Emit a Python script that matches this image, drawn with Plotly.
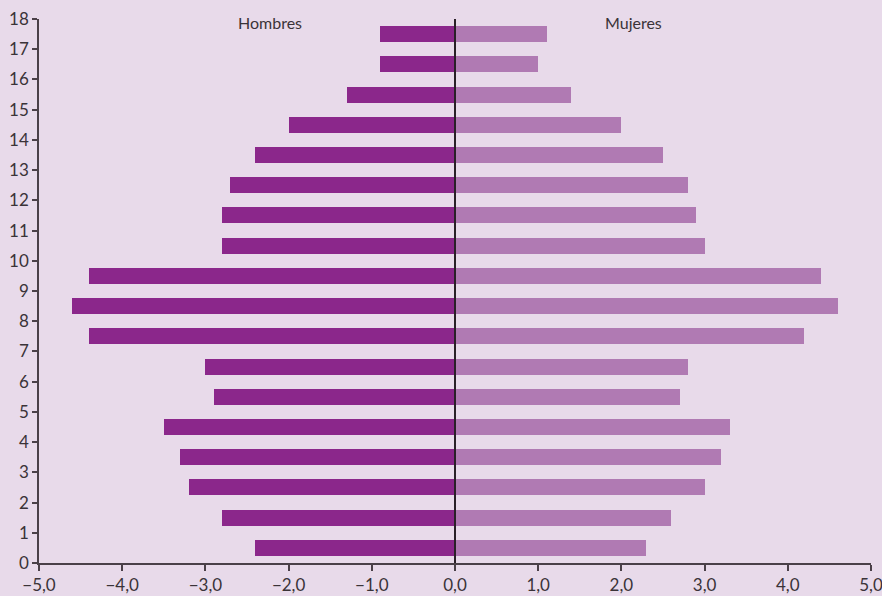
import plotly.graph_objects as go

ages = list(range(18))
hombres = [-2.4, -2.8, -3.2, -3.3, -3.5, -2.9, -3.0, -4.4, -4.6, -4.4,
           -2.8, -2.8, -2.7, -2.4, -2.0, -1.3, -0.9, -0.9]
mujeres = [2.3, 2.6, 3.0, 3.2, 3.3, 2.7, 2.8, 4.2, 4.6, 4.4,
           3.0, 2.9, 2.8, 2.5, 2.0, 1.4, 1.0, 1.1]
x_ticks = [-5, -4, -3, -2, -1, 0, 1, 2, 3, 4, 5]
x_tick_labels = [("\u2212" if v < 0 else "") + f"{abs(v)},0" for v in x_ticks]
y_ticks = list(range(19))

ycent = [a + 0.5 for a in ages]
FONT = "Lato"
TXT = "#3a3338"

fig = go.Figure()
fig.add_trace(go.Bar(y=ycent, x=hombres, orientation="h", width=0.53,
                     marker=dict(color="#8b278b", line=dict(width=0)), name="Hombres"))
fig.add_trace(go.Bar(y=ycent, x=mujeres, orientation="h", width=0.53,
                     marker=dict(color="#b07ab3", line=dict(width=0)), name="Mujeres"))

fig.add_shape(type="line", x0=0, x1=0, y0=0, y1=18, xref="x", yref="y",
              line=dict(color="#2a2028", width=2), layer="above")

fig.add_annotation(x=-2.22, y=17.9, text="Hombres", showarrow=False,
                   font=dict(family=FONT, size=16, color=TXT))
fig.add_annotation(x=2.14, y=17.9, text="Mujeres", showarrow=False,
                   font=dict(family=FONT, size=16, color=TXT))

fig.update_layout(
    width=882, height=596, barmode="overlay", showlegend=False,
    paper_bgcolor="#e8daea", plot_bgcolor="#e8daea",
    margin=dict(l=39, r=11, t=19, b=33, autoexpand=False),
    font=dict(family=FONT, size=17, color=TXT),
    bargap=0,
)
fig.update_xaxes(range=[-5, 5], tickvals=x_ticks, ticktext=x_tick_labels,
                 showgrid=False, zeroline=False, showline=True, automargin=False,
                 ticklabeloverflow="allow",
                 linecolor="#4a4048", linewidth=1.5, ticks="outside",
                 ticklen=6, tickcolor="#4a4048", tickwidth=1.5,
                 tickfont=dict(family=FONT, size=17, color=TXT))
fig.update_yaxes(range=[0, 18], tickvals=y_ticks,
                 showgrid=False, zeroline=False, showline=True, automargin=False,
                 ticklabeloverflow="allow",
                 linecolor="#4a4048", linewidth=1.5, ticks="outside",
                 ticklen=5, tickcolor="#4a4048", tickwidth=1.5,
                 tickfont=dict(family=FONT, size=17, color=TXT))

fig.write_html("out.html", config={"displayModeBar": False},
               post_script="document.body.style.margin='0';document.body.style.overflow='hidden';")
